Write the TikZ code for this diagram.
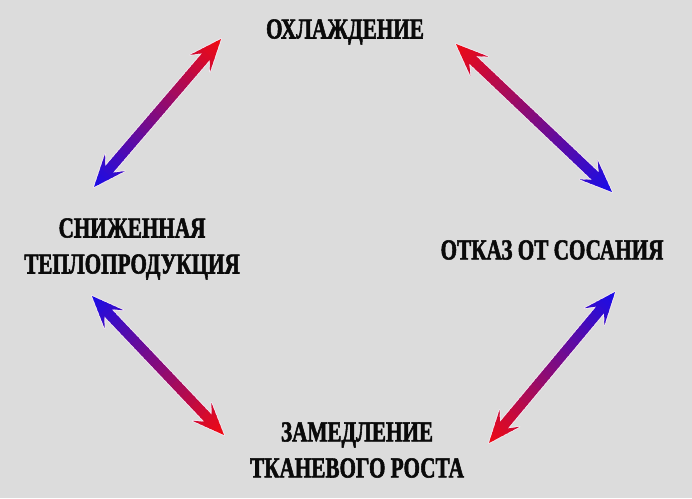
\documentclass[tikz,border=0pt]{standalone}
\usepackage{fontspec}
\usepackage{tikz}
\usetikzlibrary{calc, positioning}
\newfontfamily\cyrfont[FakeStretch=0.73, BoldFeatures={FakeBold=1.8}]{Liberation Serif}
\definecolor{backdrop}{HTML}{DCDCDC}
\definecolor{hotend}{HTML}{EE0A14}
\definecolor{coldend}{HTML}{1A0CE6}
\definecolor{darktext}{HTML}{0A0A0A}
\definecolor{halo}{HTML}{F4E8F2}

% double headed arrow, colour running from #3 (at #1) to #4 (at #2)
\newcommand{\duoarrow}[4]{%
  \path ($(#1)!32pt!(#2)$) coordinate (ba) ($(#1)!23pt!(#2)$) coordinate (na)
        ($(#2)!32pt!(#1)$) coordinate (bb) ($(#2)!23pt!(#1)$) coordinate (nb);
  \draw[halo, line width=1.8pt, line join=round]
    (#1) -- ($(ba)!13pt!90:(#2)$) -- ($(na)!5pt!90:(#2)$) -- ($(nb)!5pt!-90:(#1)$)
    -- ($(bb)!13pt!-90:(#1)$) -- (#2) -- ($(bb)!13pt!90:(#1)$) -- ($(nb)!5pt!90:(#1)$)
    -- ($(na)!5pt!-90:(#2)$) -- ($(ba)!13pt!-90:(#2)$) -- cycle;
  \begin{scope}
    \clip (#1) -- ($(ba)!13pt!90:(#2)$) -- ($(na)!5pt!90:(#2)$) -- ($(nb)!5pt!-90:(#1)$)
      -- ($(bb)!13pt!-90:(#1)$) -- (#2) -- ($(bb)!13pt!90:(#1)$) -- ($(nb)!5pt!90:(#1)$)
      -- ($(na)!5pt!-90:(#2)$) -- ($(ba)!13pt!-90:(#2)$) -- cycle;
    \foreach \k in {0,...,39} {
      \pgfmathsetmacro\fa{\k/40-0.003}
      \pgfmathsetmacro\fb{(\k+1)/40+0.003}
      \pgfmathtruncatemacro\mix{100-\k*100/39}
      \draw[#3!\mix!#4, line width=34pt] ($(#1)!\fa!(#2)$) -- ($(#1)!\fb!(#2)$);
    }
  \end{scope}
}

\begin{document}
\begin{tikzpicture}[
  x=1pt, y=1pt,
  statelbl/.style={font=\cyrfont\bfseries\fontsize{29}{36}\selectfont, align=center, text=darktext, inner sep=0pt}
]
\fill[backdrop] (0,0) rectangle (692,498);
\useasboundingbox (0,0) rectangle (692,498);

% === the four states ===
\node[statelbl] (cool) at (345,466) {ОХЛАЖДЕНИЕ};
\node[statelbl] (heat) at (132,249) {СНИЖЕННАЯ\\ТЕПЛОПРОДУКЦИЯ};
\node[statelbl] (suck) at (552,248) {ОТКАЗ ОТ СОСАНИЯ};
\node[statelbl] (grow) at (357,48) {ЗАМЕДЛЕНИЕ\\ТКАНЕВОГО РОСТА};

% arrow ends
\coordinate (heatup) at (94,311);
\coordinate (cooll) at (221,459);
\coordinate (coolr) at (456,454);
\coordinate (suckup) at (612,306);
\coordinate (heatdn) at (92,202);
\coordinate (growl) at (224,63);
\coordinate (suckdn) at (615,206);
\coordinate (growr) at (489,55);

% === arrows ===
\duoarrow{heatup}{cooll}{coldend}{hotend}
\duoarrow{coolr}{suckup}{hotend}{coldend}
\duoarrow{heatdn}{growl}{coldend}{hotend}
\duoarrow{growr}{suckdn}{hotend}{coldend}

\end{tikzpicture}
\end{document}
